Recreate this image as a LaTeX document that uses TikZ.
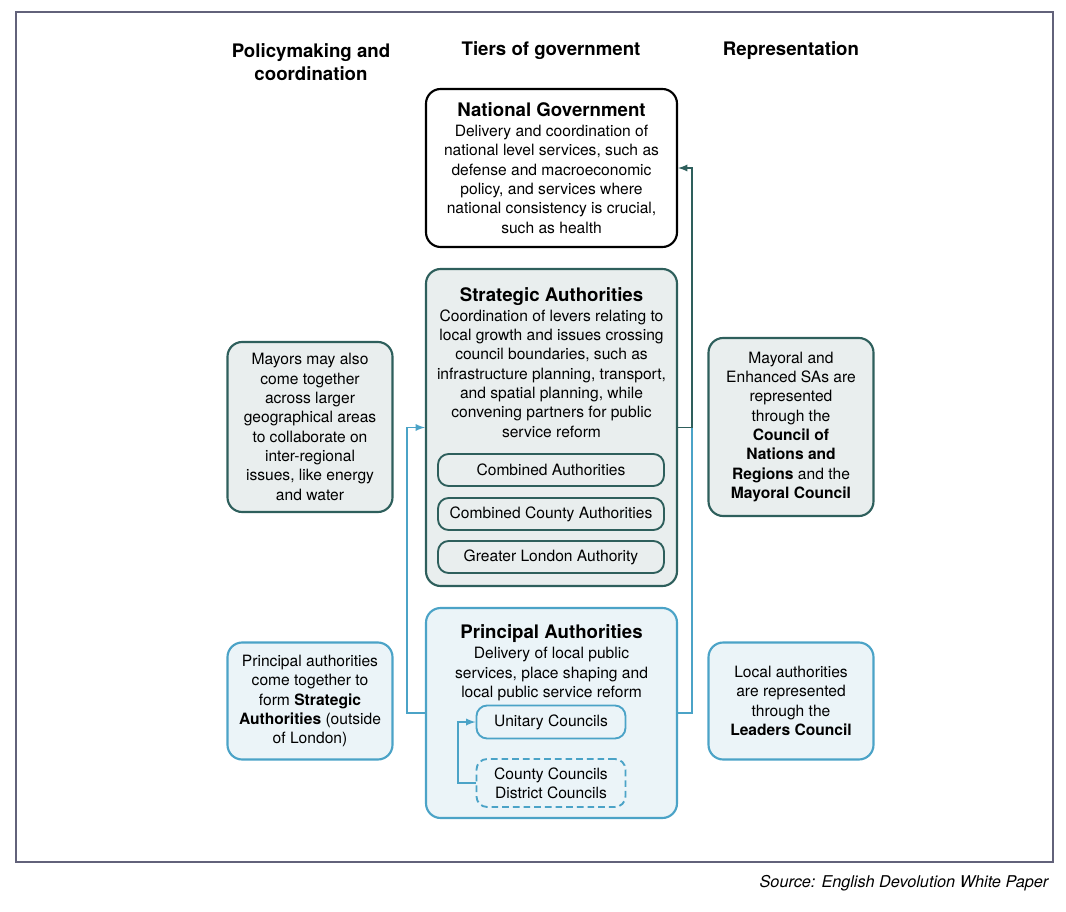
\documentclass[tikz,border=0pt]{standalone}
\usepackage{fontspec}
\setmainfont{TeX Gyre Heros}
\usetikzlibrary{positioning}
\definecolor{saline}{HTML}{2E5F5C}
\definecolor{safill}{HTML}{E9EEEE}
\definecolor{paline}{HTML}{4BA3C7}
\definecolor{pafill}{HTML}{EBF4F8}
\definecolor{frameline}{HTML}{62627A}
\begin{document}
\begin{tikzpicture}[x=0.75pt, y=-0.75pt, >=latex, font=\fontsize{11.7}{14.5}\selectfont,
	tier/.style={draw, rounded corners=11pt, line width=1.6pt, minimum width=188.25pt, inner sep=0pt},
	side/.style={draw, rounded corners=11pt, line width=1.6pt, minimum width=123.75pt, align=center, inner sep=0pt},
	sub/.style={draw, rounded corners=8pt, line width=1.4pt, inner sep=0pt},
	head/.style={font=\fontsize{14}{17}\selectfont\bfseries, align=center},
	link/.style={line width=1.4pt}]
	\useasboundingbox (0,0) rectangle (1066,912);
	\draw[frameline, line width=1pt] (16,12) rectangle (1053,862);
	\node[font=\fontsize{12.2}{14}\selectfont\itshape, anchor=east] (src) at (1053,883) {Source: English Devolution White Paper};
	% column headings
	\node[head] (hpol) at (311,62) {Policymaking and\\coordination};
	\node[head] (htier) at (551,51) {Tiers of government};
	\node[head] (hrep) at (791,51) {Representation};
	% tiers
	\node[tier, fill=white, minimum height=118.5pt, align=center] (ng) at (551.5,168) {{\fontsize{14}{16}\selectfont\bfseries National Government}\\[0.5pt]
		Delivery and coordination of\\national level services, such as\\defense and macroeconomic\\policy, and services where\\national consistency is crucial,\\such as health};
	\node[tier, saline, fill=safill, minimum height=237.75pt] (sa) at (551.5,427.5) {};
	\node[below=11pt of sa.north, align=center] (satxt) {{\fontsize{14}{16}\selectfont\bfseries Strategic Authorities}\\[0.5pt]
		Coordination of levers relating to\\local growth and issues crossing\\council boundaries, such as\\infrastructure planning, transport,\\and spatial planning, while\\convening partners for public\\service reform};
	\node[sub, saline, fill=safill, minimum width=169.5pt, minimum height=24pt, text=black] (ca) at (551,470) {Combined Authorities};
	\node[sub, saline, fill=safill, minimum width=169.5pt, minimum height=24pt, text=black] (cca) at (551,514) {Combined County Authorities};
	\node[sub, saline, fill=safill, minimum width=169.5pt, minimum height=24pt, text=black] (gla) at (551,557) {Greater London Authority};
	\node[tier, paline, fill=pafill, minimum height=157.5pt] (pa) at (551.5,713) {};
	\node[below=10pt of pa.north, align=center] (patxt) {{\fontsize{14}{16}\selectfont\bfseries Principal Authorities}\\[0.5pt]
		Delivery of local public\\services, place shaping and\\local public service reform};
	\node[sub, paline, fill=pafill, minimum width=111.75pt, minimum height=24.75pt, text=black] (uc) at (551,722) {Unitary Councils};
	\node[sub, paline, fill=pafill, dashed, dash pattern=on 5pt off 3pt, minimum width=111.75pt, minimum height=36pt, text=black, align=center] (cd) at (551,783) {County Councils\\District Councils};
	% side boxes
	\node[side, saline, fill=safill, minimum height=127.5pt, text=black] (mayors) at (310,427) {Mayors may also\\come together\\across larger\\geographical areas\\to collaborate on\\inter-regional\\issues, like energy\\and water};
	\node[side, paline, fill=pafill, minimum height=87.75pt, text=black] (form) at (310,701) {Principal authorities\\come together to\\form \textbf{Strategic}\\\textbf{Authorities} (outside\\of London)};
	\node[side, saline, fill=safill, minimum height=133.5pt, text=black] (mc) at (791,427) {Mayoral and\\Enhanced SAs are\\represented\\through the\\\textbf{Council of}\\\textbf{Nations and}\\\textbf{Regions} and the\\\textbf{Mayoral Council}};
	\node[side, paline, fill=pafill, minimum height=87.75pt, text=black] (lc) at (791,701) {Local authorities\\are represented\\through the\\\textbf{Leaders Council}};
	% connectors
	\coordinate (jr) at (692,427.5);
	\draw[link, paline] (pa.east) -| (jr);
	\draw[link, saline, ->] (sa.east) -- (jr) |- (ng.east);
	\draw[link, paline, ->] (pa.west) -- ++(-18,0) |- (sa.west);
	\draw[link, paline, ->] (cd.west) -- ++(-18,0) |- (uc.west);
\end{tikzpicture}
\end{document}
